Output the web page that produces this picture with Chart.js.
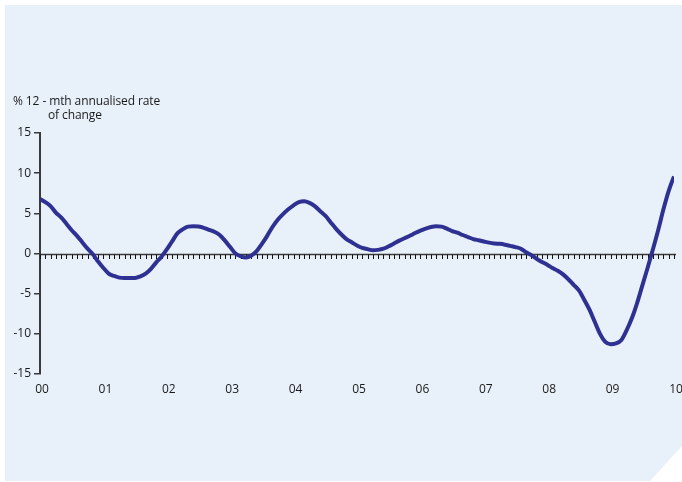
<!DOCTYPE html>
<html>
<head>
<meta charset="utf-8">
<script src="https://cdn.jsdelivr.net/npm/chart.js@4"></script>
<style>
  html, body { margin: 0; padding: 0; background: #ffffff; }
  #wrap { position: relative; width: 682px; height: 482px; overflow: hidden; }
  #panel {
    position: absolute; left: 5px; top: 5px; width: 677px; height: 476px;
    background: #e8f1f9;
    clip-path: polygon(0 0, 100% 0, 100% 441px, 645px 100%, 0 100%);
  }
  #chart { position: absolute; left: 0; top: 0; }
  .unit {
    position: absolute; font-family: "Open Sans", sans-serif; font-size: 12px;
    color: #1a1a1a; white-space: nowrap; line-height: 14px; letter-spacing: -0.1px;
  }
</style>
</head>
<body>
<div id="wrap">
  <div id="panel"></div>
  <canvas id="chart" width="682" height="482"></canvas>
  <div class="unit" style="left:13px; top:94px;">% 12 - mth annualised rate</div>
  <div class="unit" style="left:48px; top:108px;">of change</div>
</div>
<script>
// Monthly 12-month annualised rate of change, Jan 2000 – Jan 2010 (%)
const rateOfChange = [
  6.8, 6.4, 5.9, 5.1, 4.5, 3.7, 2.9, 2.2, 1.4, 0.6, -0.1, -1.0,
  -1.8, -2.5, -2.8, -3.0, -3.05, -3.05, -3.05, -2.85, -2.5, -1.9, -1.1, -0.4,
  0.5, 1.5, 2.5, 3.0, 3.35, 3.4, 3.35, 3.2, 2.95, 2.7, 2.3, 1.6,
  0.8, 0.0, -0.35, -0.5, -0.25, 0.3, 1.2, 2.2, 3.3, 4.2, 4.9, 5.5,
  6.0, 6.4, 6.5, 6.3, 5.9, 5.3, 4.7, 3.9, 3.1, 2.4, 1.8, 1.4,
  1.0, 0.7, 0.55, 0.4, 0.45, 0.6, 0.9, 1.25, 1.6, 1.9, 2.2, 2.55,
  2.85, 3.1, 3.3, 3.4, 3.35, 3.1, 2.8, 2.6, 2.3, 2.05, 1.8, 1.65,
  1.5, 1.35, 1.25, 1.2, 1.1, 0.95, 0.8, 0.6, 0.15, -0.2, -0.65, -1.05,
  -1.4, -1.8, -2.15, -2.6, -3.2, -3.9, -4.6, -5.75, -7.0, -8.5, -10.0, -11.0,
  -11.3, -11.2, -10.8, -9.6, -8.1, -6.2, -4.0, -1.8, 0.5, 2.9, 5.5, 7.8,
  9.6
];
// Month index since Jan 2000 for each value
const monthIndex = rateOfChange.map((_, i) => i);
// Year labels shown at each January
const yearLabels = ['00', '01', '02', '03', '04', '05', '06', '07', '08', '09', '10'];
// Value-axis tick labels
const yTicks = [15, 10, 5, 0, -5, -10, -15];

const axisFont = { family: '"Open Sans", sans-serif', size: 12 };

// Zero line with small monthly tick marks hanging below it
const zeroLineTicks = {
  id: 'zeroLineTicks',
  beforeDatasetsDraw(chart) {
    const { ctx, scales: { x, y }, chartArea } = chart;
    const y0 = Math.round(y.getPixelForValue(0)) + 0.5;
    ctx.save();
    ctx.strokeStyle = '#3a3a3a';
    ctx.lineWidth = 1.5;
    ctx.beginPath();
    ctx.moveTo(chartArea.left, y0);
    ctx.lineTo(chartArea.right + 2, y0);
    ctx.stroke();
    ctx.strokeStyle = '#111111';
    ctx.lineWidth = 1;
    ctx.beginPath();
    monthIndex.forEach(m => {
      const px = Math.round(x.getPixelForValue(m)) + 0.5;
      ctx.moveTo(px, y0);
      ctx.lineTo(px, y0 + 4.5);
    });
    ctx.stroke();
    ctx.restore();
  }
};

new Chart(document.getElementById('chart'), {
  type: 'line',
  data: {
    datasets: [{
      data: monthIndex.map((m, i) => ({ x: m, y: rateOfChange[i] })),
      borderColor: '#2e3192',
      borderWidth: 4,
      pointRadius: 0,
      cubicInterpolationMode: 'monotone',
      fill: false
    }]
  },
  options: {
    responsive: false,
    animation: false,
    events: [],
    layout: { padding: { left: 0, right: 8, top: 133, bottom: 76 } },
    plugins: { legend: { display: false }, tooltip: { enabled: false } },
    scales: {
      x: {
        type: 'linear',
        min: 0,
        max: 120,
        afterBuildTicks(scale) {
          scale.ticks = yearLabels.map((_, i) => ({ value: i * 12 }));
        },
        afterFit(scale) {
          scale.height = 32;
          scale.paddingLeft = 0;
          scale.paddingRight = 0;
        },
        grid: { display: false, drawTicks: false },
        border: { display: false },
        ticks: {
          color: '#1a1a1a',
          font: axisFont,
          padding: 8,
          labelOffset: 2,
          maxRotation: 0,
          autoSkip: false,
          callback: v => yearLabels[v / 12]
        }
      },
      y: {
        min: -15,
        max: 15,
        afterBuildTicks(scale) {
          scale.ticks = yTicks.map(v => ({ value: v }));
        },
        afterFit(scale) {
          scale.width = 40;
          scale.paddingTop = 0;
          scale.paddingBottom = 0;
        },
        grid: {
          drawOnChartArea: false,
          drawTicks: true,
          tickLength: 6,
          color: '#3a3a3a',
          lineWidth: 1.5
        },
        border: { display: true, color: '#3a3a3a', width: 2 },
        ticks: {
          color: '#1a1a1a',
          font: axisFont,
          padding: 3,
          callback: v => String(v)
        }
      }
    }
  },
  plugins: [zeroLineTicks]
});
</script>
</body>
</html>
